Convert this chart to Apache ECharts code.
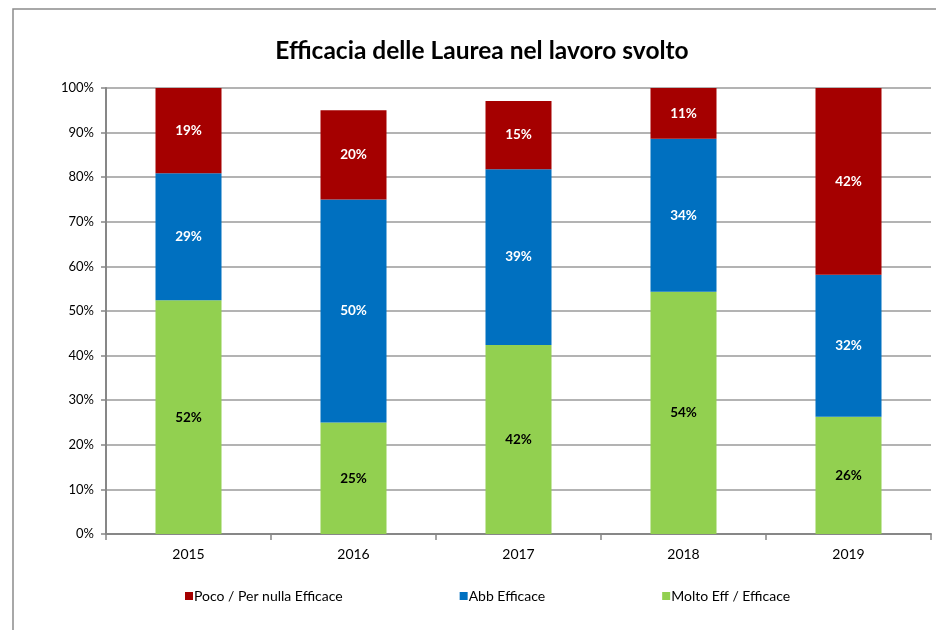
<!DOCTYPE html>
<html>
<head>
<meta charset="utf-8">
<script src="https://cdn.jsdelivr.net/npm/echarts@6/dist/echarts.min.js"></script>
<style>
html, body { margin: 0; padding: 0; background: #fff; }
#chart { width: 936px; height: 630px; }
</style>
</head>
<body>
<div id="chart"></div>
<script>
var years = ['2015', '2016', '2017', '2018', '2019'];
var moltoEff = [52.4, 25.0, 42.4, 54.3, 26.3];
var abbEff = [28.5, 50.0, 39.4, 34.3, 31.8];
var pocoEff = [19.1, 20.0, 15.3, 11.4, 41.9];
var yTicks = [0, 10, 20, 30, 40, 50, 60, 70, 80, 90, 100];

var chart = echarts.init(document.getElementById('chart'), null, {renderer: 'canvas'});

function pct(p) { return Math.round(p.value) + '%'; }

function barSeries(name, data, color, labelColor) {
    return {
        name: name,
        type: 'bar',
        stack: 'tot',
        data: data,
        barCategoryGap: '60%',
        itemStyle: {color: color},
        label: {
            show: true,
            position: 'inside',
            formatter: pct,
            color: labelColor,
            fontWeight: 'bold',
            fontSize: 13.5,
            fontFamily: 'Lato'
        }
    };
}

chart.setOption({
    animation: false,
    textStyle: {fontFamily: 'Lato'},
    title: {
        text: 'Efficacia delle Laurea nel lavoro svolto',
        left: 477,
        top: 34,
        textAlign: 'center',
        textStyle: {fontSize: 24.5, fontWeight: 'bold', color: '#000', fontFamily: 'Lato'}
    },
    graphic: [{
        type: 'polyline',
        shape: {points: [[13, 640], [13, 9], [940, 9]]},
        style: {stroke: '#8c8c8c', lineWidth: 1.5, fill: 'none'}
    }],
    legend: {
        left: 185,
        top: 589,
        padding: 0,
        itemWidth: 8,
        itemHeight: 8,
        itemGap: 117,
        icon: 'rect',
        data: ['Poco / Per nulla Efficace', 'Abb Efficace', 'Molto Eff / Efficace'],
        textStyle: {fontSize: 14, color: '#000', fontFamily: 'Lato', padding: [0, 0, 0, -4]}
    },
    grid: {left: 106, right: 5, top: 88, bottom: 96},
    xAxis: {
        type: 'category',
        data: years,
        axisLine: {lineStyle: {color: '#878787', width: 2}},
        axisTick: {show: true, length: 6, lineStyle: {color: '#878787', width: 1.5}},
        axisLabel: {color: '#000', fontSize: 14, margin: 13}
    },
    yAxis: {
        type: 'value',
        min: 0,
        max: 100,
        interval: 10,
        axisLine: {show: true, lineStyle: {color: '#878787', width: 2}},
        axisTick: {show: true, length: 5, lineStyle: {color: '#878787', width: 1.5}},
        axisLabel: {
            color: '#000',
            fontSize: 13,
            margin: 12,
            formatter: function (v) { return yTicks.indexOf(v) >= 0 ? v + '%' : ''; }
        },
        splitLine: {lineStyle: {color: '#9a9a9a', width: 1.5}}
    },
    series: [
        barSeries('Molto Eff / Efficace', moltoEff, '#92d050', '#000'),
        barSeries('Abb Efficace', abbEff, '#0070c0', '#fff'),
        barSeries('Poco / Per nulla Efficace', pocoEff, '#a50000', '#fff')
    ]
});
</script>
</body>
</html>
